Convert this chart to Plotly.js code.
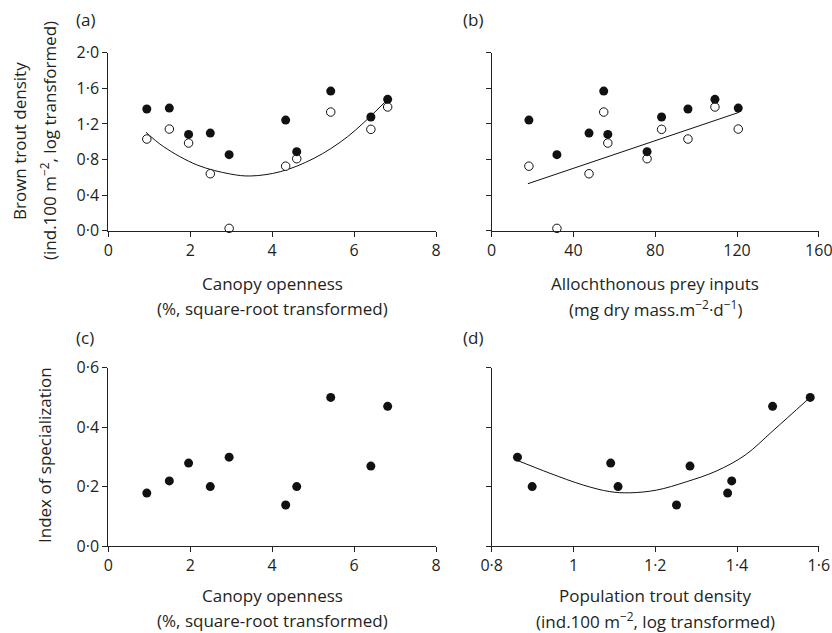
<!DOCTYPE html>
<html>
<head>
<meta charset="utf-8">
<script src="https://cdn.plot.ly/plotly-3.0.1.min.js"></script>
<style>html,body{margin:0;padding:0;background:#fff}#chart{width:832px;height:633px}</style>
</head>
<body>
<div id="chart"></div>
<script>
// ---- data ----
const canopy = [0.94, 1.49, 1.96, 2.49, 2.95, 4.33, 4.60, 5.43, 6.41, 6.82];
const densityFilled = [1.367, 1.378, 1.082, 1.097, 0.854, 1.243, 0.888, 1.569, 1.277, 1.476];
const densityOpen = [1.030, 1.142, 0.985, 0.640, 0.026, 0.725, 0.809, 1.333, 1.139, 1.390];
const preyInputs = [96.0, 120.6, 56.8, 47.6, 31.9, 18.2, 76.0, 54.8, 83.1, 109.2];
const specialization = [0.178, 0.219, 0.279, 0.200, 0.299, 0.138, 0.200, 0.500, 0.269, 0.470];
const popDensity = [1.377, 1.387, 1.091, 1.109, 0.863, 1.252, 0.899, 1.579, 1.285, 1.487];

// fitted curves
const fitA_x = [0.92, 1.35, 2.17, 2.98, 3.47, 4.20, 5.02, 5.84, 6.82];
const fitA_y = [1.106, 0.944, 0.738, 0.637, 0.615, 0.663, 0.813, 1.056, 1.475];
const fitB_x = [17.7, 121.0];
const fitB_y = [0.528, 1.330];
const fitD_x = [0.861, 0.942, 1.024, 1.089, 1.138, 1.203, 1.276, 1.349, 1.420, 1.488, 1.573];
const fitD_y = [0.289, 0.245, 0.205, 0.183, 0.179, 0.188, 0.216, 0.252, 0.306, 0.388, 0.493];

// tick labels
const tickA_x = [0, 2, 4, 6, 8];
const tickB_x = [0, 40, 80, 120, 160];
const tickD_x = [0.8, 1.0, 1.2, 1.4, 1.6];
const tickD_xText = ['0·8', '1', '1·2', '1·4', '1·6'];
const tickTop_y = [0, 0.4, 0.8, 1.2, 1.6, 2.0];
const tickTop_yText = ['0·0', '0·4', '0·8', '1·2', '1·6', '2·0'];
const tickBot_y = [0, 0.2, 0.4, 0.6];
const tickBot_yText = ['0·0', '0·2', '0·4', '0·6'];

const FONT = 'Open Sans, Noto Sans, sans-serif';
const INK = '#231f20';
const filled = {size: 9, color: '#111', line: {width: 0}};
const open = {size: 8.5, color: '#fff', line: {width: 1, color: '#111'}};
const fitLine = {color: '#111', width: 1, shape: 'spline'};

const traces = [
  {x: fitA_x, y: fitA_y, xaxis: 'x', yaxis: 'y', mode: 'lines', line: fitLine, hoverinfo: 'skip'},
  {x: canopy, y: densityOpen, xaxis: 'x', yaxis: 'y', mode: 'markers', marker: open, cliponaxis: false},
  {x: canopy, y: densityFilled, xaxis: 'x', yaxis: 'y', mode: 'markers', marker: filled, cliponaxis: false},

  {x: fitB_x, y: fitB_y, xaxis: 'x2', yaxis: 'y2', mode: 'lines', line: {color: '#111', width: 1}, hoverinfo: 'skip'},
  {x: preyInputs, y: densityOpen, xaxis: 'x2', yaxis: 'y2', mode: 'markers', marker: open, cliponaxis: false},
  {x: preyInputs, y: densityFilled, xaxis: 'x2', yaxis: 'y2', mode: 'markers', marker: filled, cliponaxis: false},

  {x: canopy, y: specialization, xaxis: 'x3', yaxis: 'y3', mode: 'markers', marker: filled, cliponaxis: false},

  {x: fitD_x, y: fitD_y, xaxis: 'x4', yaxis: 'y4', mode: 'lines', line: fitLine, hoverinfo: 'skip'},
  {x: popDensity, y: specialization, xaxis: 'x4', yaxis: 'y4', mode: 'markers', marker: filled, cliponaxis: false}
];

const W = 832, H = 633;
const fx = p => p / W;
const fy = p => 1 - p / H;

const axBase = {
  showgrid: false, zeroline: false, showline: true, linecolor: '#222', linewidth: 1,
  ticks: 'outside', ticklen: 5, tickwidth: 1, tickcolor: '#222',
  tickfont: {family: FONT, size: 16, color: INK}, fixedrange: true,
  ticklabeloverflow: 'allow'
};
const colL = [fx(108.3), fx(436)];
const colR = [fx(491.7), fx(818.8)];
const rowT = [fy(230.7), fy(52.7)];
const rowB = [fy(546), fy(367.7)];

const layout = {
  width: W, height: H, showlegend: false,
  margin: {l: 0, r: 0, t: 0, b: 0},
  paper_bgcolor: '#fff', plot_bgcolor: '#fff',
  font: {family: FONT, color: INK},
  xaxis: Object.assign({}, axBase, {domain: colL, range: [0, 8], tickvals: tickA_x, anchor: 'y'}),
  yaxis: Object.assign({}, axBase, {domain: rowT, range: [0, 2], tickvals: tickTop_y, ticktext: tickTop_yText, anchor: 'x'}),
  xaxis2: Object.assign({}, axBase, {domain: colR, range: [0, 160], tickvals: tickB_x, anchor: 'y2'}),
  yaxis2: Object.assign({}, axBase, {domain: rowT, range: [0, 2], tickvals: tickTop_y, showticklabels: false, anchor: 'x2'}),
  xaxis3: Object.assign({}, axBase, {domain: colL, range: [0, 8], tickvals: tickA_x, anchor: 'y3'}),
  yaxis3: Object.assign({}, axBase, {domain: rowB, range: [0, 0.6], tickvals: tickBot_y, ticktext: tickBot_yText, anchor: 'x3'}),
  xaxis4: Object.assign({}, axBase, {domain: colR, range: [0.8, 1.6], tickvals: tickD_x, ticktext: tickD_xText, anchor: 'y4'}),
  yaxis4: Object.assign({}, axBase, {domain: rowB, range: [0, 0.6], tickvals: tickBot_y, showticklabels: false, anchor: 'x4'}),
  annotations: []
};

function note(text, px, py, size, angle) {
  layout.annotations.push({
    text: text, xref: 'paper', yref: 'paper', x: fx(px), y: fy(py),
    xanchor: 'center', yanchor: 'middle', showarrow: false, textangle: angle || 0,
    font: {family: FONT, size: size, color: INK}
  });
}
// panel letters
note('(a)', 85, 19, 17);
note('(b)', 473, 19, 17);
note('(c)', 85, 337, 17);
note('(d)', 473, 337, 17);
// axis titles
note('Canopy openness', 272, 283, 17);
note('(%, square-root transformed)', 272, 308, 17);
note('Allochthonous prey inputs', 655, 283, 17);
note('(mg dry mass.m<sup>−2</sup>·d<sup>−1</sup>)', 655, 308, 17);
note('Canopy openness', 272, 595, 17);
note('(%, square-root transformed)', 272, 620, 17);
note('Population trout density', 655, 595, 17);
note('(ind.100 m<sup>−2</sup>, log transformed)', 655, 620, 17);
note('Brown trout density', 20, 141, 17, -90);
note('(ind.100 m<sup>−2</sup>, log transformed)', 49, 141, 17, -90);
note('Index of specialization', 45, 455, 17, -90);

Plotly.newPlot('chart', traces, layout, {displayModeBar: false, staticPlot: true});
</script>
</body>
</html>
